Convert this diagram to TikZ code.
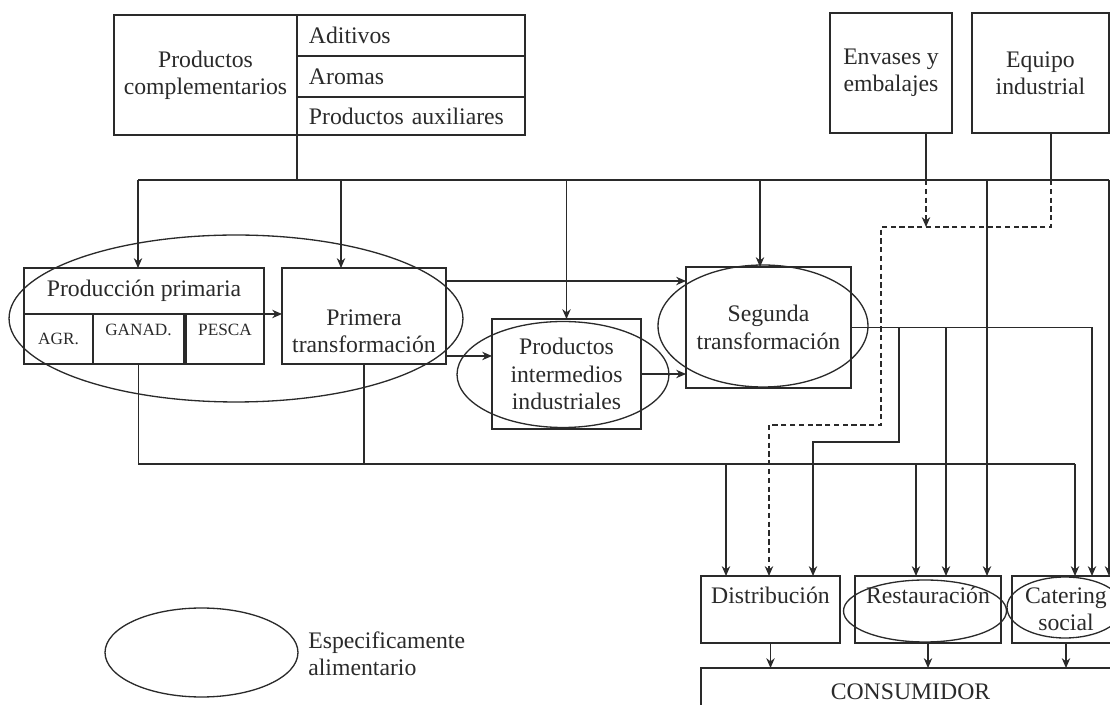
\documentclass[tikz,border=0pt]{standalone}
\usepackage{fontspec}
\setmainfont{Liberation Serif}
\usepackage{tikz}
\usetikzlibrary{shapes}
\usetikzlibrary{arrows.meta}
\usetikzlibrary{positioning}
\usepackage{xcolor}
\definecolor{myink}{HTML}{2A2A2A}
\tikzset{node distance=0pt, every node/.style={align=center, text=myink, font={\fontsize{13.5}{15.5}\selectfont}}}
\tikzstyle{block} = [draw=myink, rectangle, inner sep=0pt, outer sep=0pt, line width=0.85pt]
\tikzstyle{cell} = [block, align=left, text width=4.08cm, inner xsep=0.24cm, minimum height=0.82cm]
\tikzstyle{sub} = [block, font={\fontsize{9.8}{11}\selectfont}, minimum height=1cm]
\tikzstyle{oval} = [draw=myink, ellipse, inner sep=0pt, outer sep=0pt, line width=0.75pt]
\tikzstyle{wire} = [draw=myink, line width=0.7pt]
\tikzstyle{ln} = [wire, arrows={-Stealth[length=5.6pt, width=4.8pt]}]
\tikzstyle{dln} = [ln, dash pattern=on 3pt off 2pt]

\begin{document}
\begin{tikzpicture}[x=0.02cm, y=-0.02cm]
  \useasboundingbox (0,0) rectangle (1110,705);
  \clip (0,0) rectangle (1110,705);
  % suppliers
  \node[block, minimum width=3.66cm, minimum height=2.4cm] (comp) at (205.5,75) {Productos\\complementarios};
  \node[cell, anchor=north west] (adit) at (comp.north east) {Aditivos};
  \node[cell, below=of adit] (arom) {Aromas};
  \node[cell, below=of arom, minimum height=0.76cm] (aux) {Productos auxiliares};
  \node[block, minimum width=2.44cm, minimum height=2.4cm] (env) at (891,73) {Envases y\\embalajes};
  \node[block, minimum width=2.74cm, minimum height=2.4cm] (equ) at (1040.5,73) {Equipo\\industrial};
  % production chain
  \node[block, minimum width=4.8cm, minimum height=0.92cm] (pp) at (144,291) {Producción primaria};
  \node[sub, minimum width=1.38cm, anchor=north west] (agr) at (pp.south west) {AGR.};
  \node[sub, minimum width=1.82cm, text depth=0.36cm, right=of agr] (ganad) {GANAD.};
  \node[sub, minimum width=1.56cm, text depth=0.36cm, right=0.04cm of ganad] (pesca) {PESCA};
  \node[block, minimum width=3.28cm, minimum height=1.92cm] (pt) at (364,316) {};
  \node[inner sep=0pt] (pt-txt) at ([yshift=-0.3cm]pt.center) {Primera\\transformación};
  \node[block, minimum width=2.98cm, minimum height=2.2cm] (int) at (566.5,374) {Productos\\intermedios\\industriales};
  \node[block, minimum width=3.3cm, minimum height=2.42cm] (seg) at (768.5,327.5) {Segunda\\transformación};
  % outlets
  \node[block, minimum width=2.78cm, minimum height=1.34cm, text height=0.35cm, text depth=0.57cm] (dist) at (770.5,609.5) {Distribución};
  \node[block, minimum width=2.92cm, minimum height=1.34cm, text height=0.35cm, text depth=0.57cm] (rest) at (928,609.5) {Restauración};
  \node[block, minimum width=2.16cm, minimum height=1.34cm] (cat) at (1066,609.5) {Catering\\social};
  \node[block, minimum width=8.38cm, minimum height=0.96cm] (cons) at (910.5,692) {CONSUMIDOR};
  % food-specific ovals
  \node[oval, minimum width=9.08cm, minimum height=3.34cm] (ov-prim) at (236,318.5) {};
  \node[oval, minimum width=4.24cm, minimum height=2.12cm] (ov-int) at (563,374.5) {};
  \node[oval, minimum width=4.2cm, minimum height=2.44cm] (ov-seg) at (763,326) {};
  \node[oval, minimum width=3.26cm, minimum height=1.24cm] (ov-rest) at (925,611) {};
  \node[oval, minimum width=2.32cm, minimum height=1.22cm] (ov-cat) at (1065,607.5) {};
  % legend
  \node[oval, minimum width=3.86cm, minimum height=1.78cm] (ov-leg) at (201.5,652.5) {};
  \node[inner sep=0pt, anchor=west, align=left] (leg-txt) at (308,654) {Especificamente\\alimentario};
  % bus taps
  \coordinate (bus-l) at (138,180);
  \coordinate (bus-r) at (1109,180);
  \coordinate (tap-pt) at (341,180);
  \coordinate (tap-seg) at (760,180);
  \coordinate (tap-env) at (926,180);
  \coordinate (tap-rest) at (987,180);
  \coordinate (tap-equ) at (1051,180);
  \coordinate (dash-a) at (881,227);
  \coordinate (dash-b) at (769,425);
  \coordinate (seg-a) at (899,328);
  \coordinate (seg-b) at (813,442);
  \coordinate (seg-c) at (946,328);
  \coordinate (seg-r) at (1092,328);
  \coordinate (low-a) at (726,464);
  \coordinate (low-b) at (916,464);
  \coordinate (low-r) at (1075,464);
  % upper bus
  \draw[wire] (comp.south east) -- (comp.south east |- bus-l);
  \draw[wire] (bus-l) -- (bus-r);
  \draw[ln] (bus-l) -- (bus-l |- pp.north);
  \draw[ln] (tap-pt) -- (tap-pt |- pt.north);
  \draw[ln] (int.north |- bus-l) -- (int.north);
  \draw[ln] (tap-seg) -- (tap-seg |- seg.north);
  \draw[wire] (env.south -| tap-env) -- (tap-env);
  \draw[wire] (equ.south -| tap-equ) -- (tap-equ);
  \draw[dln] (tap-env) -- (tap-env |- dash-a);
  \draw[dln] (tap-equ) |- (dash-a) |- (dash-b) -- (dash-b |- dist.north);
  \draw[ln] (tap-rest) -- (tap-rest |- rest.north);
  \draw[ln] (bus-r) -- (bus-r |- cat.north);
  % chain
  \draw[ln] (pp.south east) -- (pp.south east -| pt.west);
  \draw[ln] ([yshift=-0.26cm]pt.north east) -- ([yshift=-0.26cm]pt.north east -| seg.west);
  \draw[ln] ([yshift=0.16cm]pt.south east) -- ([yshift=0.16cm]pt.south east -| int.west);
  \draw[ln] (int.east) -- (int.east -| seg.west);
  \draw[wire] (seg.east) -- (seg.east -| seg-r);
  \draw[ln] (seg.east -| seg-a) |- (seg-b) -- (seg-b |- dist.north);
  \draw[ln] (seg.east -| seg-c) -- (seg-c |- rest.north);
  \draw[ln] (seg.east -| seg-r) -- (seg-r |- cat.north);
  % lower bus
  \draw[wire] (ganad.south) |- (low-r);
  \draw[wire] (pt.south) -- (pt.south |- low-r);
  \draw[ln] (low-a) -- (low-a |- dist.north);
  \draw[ln] (low-b) -- (low-b |- rest.north);
  \draw[ln] (low-r) -- (low-r |- cat.north);
  % to consumer
  \draw[ln] (dist.south) -- (dist.south |- cons.north);
  \draw[ln] (rest.south) -- (rest.south |- cons.north);
  \draw[ln] (cat.south) -- (cat.south |- cons.north);
\end{tikzpicture}
\end{document}
